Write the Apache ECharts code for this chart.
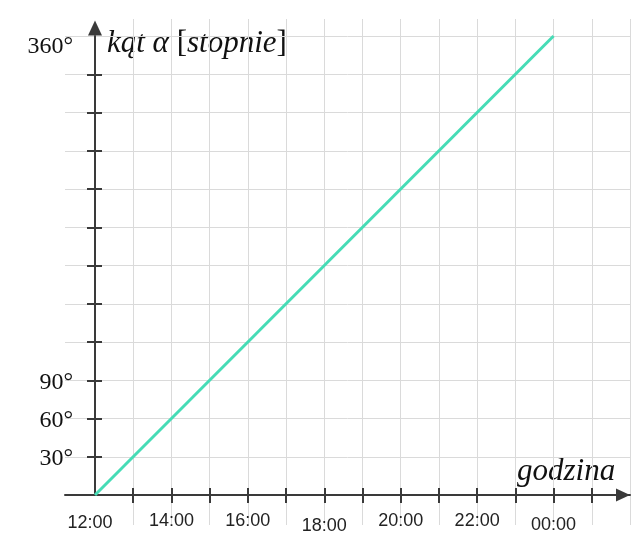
<!DOCTYPE html>
<html>
<head>
<meta charset="utf-8">
<script src="https://cdn.jsdelivr.net/npm/echarts@6/dist/echarts.min.js"></script>
<style>html,body{margin:0;padding:0;background:#fff}#c{width:640px;height:542px}</style>
</head>
<body>
<div id="c"></div>
<script>
// ---- data ----
const hours = [0, 12];
const angles = [0, 360];
const xLabelHours = [0, 2, 4, 6, 8, 10, 12];
const xTickLabels = ['12:00', '14:00', '16:00', '18:00', '20:00', '22:00', '00:00'];
const xTickHours = [1, 2, 3, 4, 5, 6, 7, 8, 9, 10, 11, 12, 13];
const yTickValues = [30, 60, 90, 120, 150, 180, 210, 240, 270, 300, 330];
const yLabelValues = [30, 60, 90, 360];
const xName = 'godzina';
const yNameMain = 'kąt α ';
const yNameUnit = 'stopnie';

// ---- styling ----
const AX = '#3a3a3a', GRID = '#dadada', LINE = '#46dcb6';
const SERIF = '"Liberation Serif", "Times New Roman", serif';
const SANS = '"Liberation Sans", Arial, sans-serif';
const xLabelStyle = {'12:00': 'a', '18:00': 'b', '00:00': 'c'};
const xRich = {
  n: {fontFamily: SANS, fontSize: 18, color: '#222'},
  a: {fontFamily: SANS, fontSize: 18, color: '#222', padding: [2, 10, 0, 0]},
  b: {fontFamily: SANS, fontSize: 18, color: '#222', padding: [5, 0, 0, 0]},
  c: {fontFamily: SANS, fontSize: 18, color: '#222', padding: [4, 0, 0, 0]}
};
const yRich = {
  n: {fontFamily: SERIF, fontSize: 24, color: '#111', padding: [4, 0, 0, 0]},
  t: {fontFamily: SERIF, fontSize: 24, color: '#111', padding: [22, 0, 0, 0]}
};
const titleRich = {
  i: {fontFamily: SERIF, fontStyle: 'italic', fontSize: 31, fill: '#111'},
  r: {fontFamily: SERIF, fontStyle: 'normal', fontSize: 31, fill: '#111'}
};

const chart = echarts.init(document.getElementById('c'), null, {renderer: 'canvas'});
const hidden = {axisLine: {show: false}, axisTick: {show: false}, axisLabel: {show: false}, splitLine: {show: false}};

chart.setOption({
  animation: false,
  backgroundColor: '#fff',
  grid: [
    {left: 95, right: 10, top: 19, bottom: 17},   // vertical grid lines
    {left: 65, right: 10, top: 36, bottom: 47},   // horizontal grid lines + x axis line
    {left: 95, right: 10, top: 36, bottom: 47}    // data
  ],
  xAxis: [
    Object.assign({}, hidden, {gridIndex: 0, type: 'value', min: 0, max: 14, interval: 1,
      splitLine: {show: true, showMinLine: false, lineStyle: {color: GRID, width: 1}}}),
    Object.assign({}, hidden, {gridIndex: 1, type: 'value', min: 0, max: 1, position: 'bottom',
      axisLine: {show: true, onZero: false, symbol: ['none', 'triangle'], symbolSize: [13, 14], symbolOffset: [0, -7],
        lineStyle: {color: AX, width: 2}}}),
    Object.assign({}, hidden, {gridIndex: 2, type: 'value', min: 0, max: 14, interval: 1, position: 'bottom',
      axisLine: {show: false, onZero: false},
      axisTick: {show: true, customValues: xTickHours, length: 8, lineStyle: {color: AX, width: 2}},
      axisLabel: {show: true, customValues: xLabelHours, margin: 17,
        formatter: function (v) {
          const t = xTickLabels[xLabelHours.indexOf(v)];
          return '{' + (xLabelStyle[t] || 'n') + '|' + t + '}';
        }, rich: xRich}}),
    Object.assign({}, hidden, {gridIndex: 2, type: 'value', min: 0, max: 14, interval: 1, position: 'bottom',
      axisLine: {show: false, onZero: false},
      axisTick: {show: true, inside: true, customValues: xTickHours, length: 7, lineStyle: {color: AX, width: 2}}})
  ],
  yAxis: [
    Object.assign({}, hidden, {gridIndex: 0, type: 'value', min: 0, max: 1}),
    Object.assign({}, hidden, {gridIndex: 1, type: 'value', min: 0, max: 360, interval: 30,
      splitLine: {show: true, lineStyle: {color: GRID, width: 1}}}),
    Object.assign({}, hidden, {gridIndex: 2, type: 'value', min: 0, max: 360, interval: 30, position: 'left',
      axisLine: {show: true, onZero: false, symbol: ['none', 'triangle'], symbolSize: [14, 15], symbolOffset: [0, 8],
        lineStyle: {color: AX, width: 2}},
      axisTick: {show: true, customValues: yTickValues, length: 8, lineStyle: {color: AX, width: 2}},
      axisLabel: {show: true, customValues: yLabelValues, margin: 22,
        formatter: function (v) { return '{' + (v === 360 ? 't' : 'n') + '|' + v + '°}'; }, rich: yRich}}),
    Object.assign({}, hidden, {gridIndex: 2, type: 'value', min: 0, max: 360, interval: 30, position: 'left',
      axisLine: {show: false, onZero: false},
      axisTick: {show: true, inside: true, customValues: yTickValues, length: 7, lineStyle: {color: AX, width: 2}}})
  ],
  series: [{
    type: 'line',
    xAxisIndex: 2, yAxisIndex: 2,
    data: hours.map((h, i) => [h, angles[i]]),
    symbol: 'none',
    lineStyle: {color: LINE, width: 3},
    z: 5
  }],
  graphic: [
    {type: 'text', left: 107, top: 28, style: {
      text: '{i|' + yNameMain + '}{r|[}{i|' + yNameUnit + '}{r|]}', rich: titleRich,
      fontFamily: SERIF, fontSize: 31, fill: '#111'}},
    {type: 'text', left: 517, top: 456, style: {text: xName, fontFamily: SERIF, fontStyle: 'italic', fontSize: 31, fill: '#111'}}
  ]
});
</script>
</body>
</html>
